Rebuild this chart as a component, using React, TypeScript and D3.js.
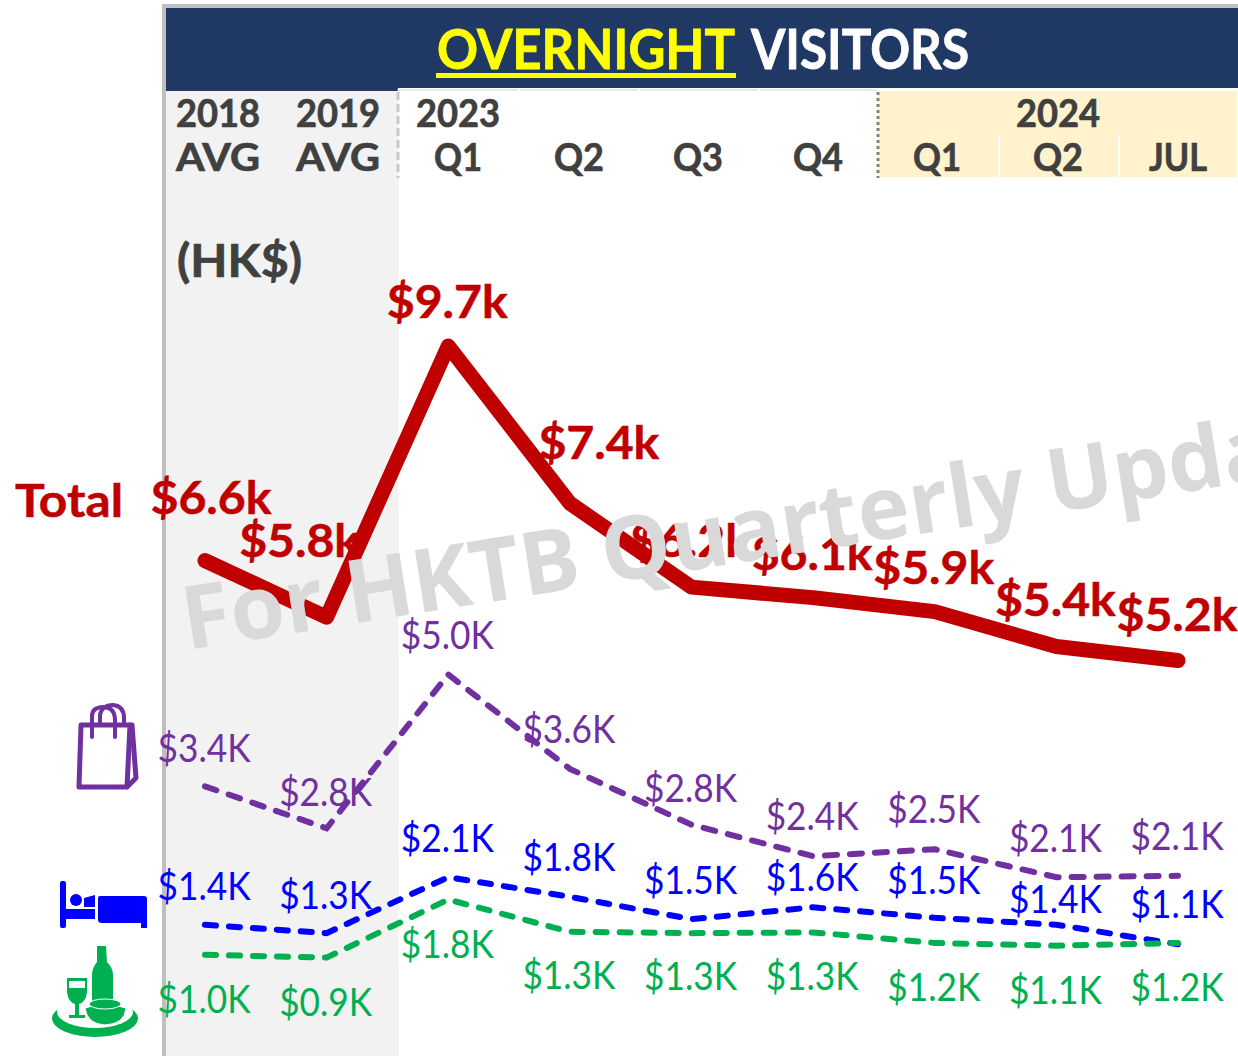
import React from "react";
import * as d3 from "d3";

const categories = ["2018 AVG", "2019 AVG", "2023 Q1", "2023 Q2", "2023 Q3", "2023 Q4", "2024 Q1", "2024 Q2", "2024 JUL"];
const totalValues = [6.63, 5.82, 9.7, 7.45, 6.25, 6.1, 5.9, 5.4, 5.2];
const shoppingValues = [3.4, 2.8, 5.0, 3.65, 2.85, 2.4, 2.5, 2.1, 2.12];
const hotelValues = [1.42, 1.3, 2.1, 1.82, 1.5, 1.67, 1.52, 1.42, 1.14];
const foodValues = [0.99, 0.95, 1.78, 1.32, 1.3, 1.31, 1.16, 1.12, 1.16];
const totalLabels = ["$6.6k", "$5.8k", "$9.7k", "$7.4k", "$6.2k", "$6.1k", "$5.9k", "$5.4k", "$5.2k"];
const shoppingLabels = ["$3.4K", "$2.8K", "$5.0K", "$3.6K", "$2.8K", "$2.4K", "$2.5K", "$2.1K", "$2.1K"];
const hotelLabels = ["$1.4K", "$1.3K", "$2.1K", "$1.8K", "$1.5K", "$1.6K", "$1.5K", "$1.4K", "$1.1K"];
const foodLabels = ["$1.0K", "$0.9K", "$1.8K", "$1.3K", "$1.3K", "$1.3K", "$1.2K", "$1.1K", "$1.2K"];
const topTicks = ["2018", "2019", "2023"];
const bottomTicks = ["AVG", "AVG", "Q1", "Q2", "Q3", "Q4", "Q1", "Q2", "JUL"];

const FONT = "Lato, 'Open Sans', sans-serif";
const RED = "#c00000", PURPLE = "#7030a0", BLUE = "#0000ff", GREEN = "#00b050", DARK = "#404040";

const x = d3.scalePoint<string>().domain(categories).range([205, 1178]);
const y = d3.scaleLinear().domain([0, 9.7]).range([1024, 346]);
const line = d3.line<number>().x((_, i) => x(categories[i]) as number).y((d) => y(d));

function Labels({ labels, ys, color }: { labels: string[]; ys: number[]; color: string }) {
  return (
    <g fill={color} fontSize={38} fontWeight={400} textAnchor="middle">
      {labels.map((t, i) => (
        <text key={i} x={(x(categories[i]) as number) - 1} y={ys[i]} textLength={93} lengthAdjust="spacingAndGlyphs">{t}</text>
      ))}
    </g>
  );
}

const totalLabelY = [514, 557, 318, 459, 557, 570, 584, 616, 631];
const totalLabelDx = [7, -26, 0, 30, 0, 0, 0, 0, 0];
const shopY = [762, 806, 649, 743, 802, 830, 823, 852, 850];
const hotelY = [900, 909, 852, 871, 894, 891, 894, 913, 918];
const foodY = [1013, 1016, 958, 989, 990, 990, 1001, 1004, 1001];

export default function App() {
  const xs = categories.map((c) => x(c) as number);
  return (
    <svg width={1238} height={1056} viewBox="0 0 1238 1056" style={{ position: "absolute", left: 0, top: 0, display: "block" }} fontFamily={FONT}>
      <rect x={163} y={90} width={235.5} height={966} fill="#f2f2f2" />
      <rect x={878} y={91} width={359} height={86} fill="#fff2cc" />
      <rect x={998} y={135} width={2} height={42} fill="#ffffff" />
      <rect x={1118} y={135} width={2} height={42} fill="#ffffff" />
      <rect x={165} y={8} width={1073} height={80} fill="#203864" />
      <rect x={165} y={88} width={233} height={3} fill="#203864" />
      <rect x={162} y={4} width={1076} height={4} fill="#bfbfbf" />
      <rect x={162} y={4} width={4} height={1052} fill="#bfbfbf" />
      <g stroke="#ffff00" strokeWidth={0.8}>
        <text x={586} y={69} fontSize={56} fontWeight={700} fill="#ffff00" textAnchor="middle" textLength={298} lengthAdjust="spacingAndGlyphs">OVERNIGHT</text>
      </g>
      <rect x={436} y={73} width={300} height={5} fill="#ffff00" />
      <text x={860} y={69} fontSize={56} fontWeight={700} fill="#ffffff" stroke="#ffffff" strokeWidth={0.8} textAnchor="middle" textLength={218} lengthAdjust="spacingAndGlyphs">VISITORS</text>
      <line x1={397} x2={878} y1={90} y2={90} stroke="#cfd3e3" strokeWidth={1} />
      {[519, 639, 759].map((gap) => (
        <rect key={gap} x={gap - 1} y={89} width={2} height={2} fill="#ffffff" />
      ))}
      <line x1={398} x2={398} y1={92} y2={178} stroke="#c8c8c8" strokeWidth={3} strokeDasharray="8 4" />
      <line x1={878} x2={878} y1={92} y2={178} stroke="#808080" strokeWidth={3} strokeDasharray="3 3" />
      <g fill={DARK} stroke={DARK} strokeWidth={0.7} fontSize={38} fontWeight={700} textAnchor="middle">
        {topTicks.map((t, i) => (
          <text key={t} x={[218, 338, 458][i]} y={127} textLength={84} lengthAdjust="spacingAndGlyphs">{t}</text>
        ))}
        <text x={1058} y={127} textLength={84} lengthAdjust="spacingAndGlyphs">2024</text>
        {bottomTicks.map((t, i) => (
          <text key={i} x={[218, 338, 458, 579, 698, 818, 937, 1058, 1178][i]} y={171} textLength={[84, 84, 48, 50, 50, 50, 48, 50, 58][i]} lengthAdjust="spacingAndGlyphs">{t}</text>
        ))}
      </g>
      <text x={177} y={277} fontSize={46} fontWeight={700} fill={DARK} stroke={DARK} strokeWidth={0.7} textLength={125} lengthAdjust="spacingAndGlyphs">(HK$)</text>
      <text x={15} y={517} fontSize={45} fontWeight={700} fill={RED} stroke={RED} strokeWidth={0.5} textLength={108} lengthAdjust="spacingAndGlyphs">Total</text>

      <path d={line(totalValues) ?? ""} fill="none" stroke={RED} strokeWidth={15} strokeLinecap="round" strokeLinejoin="round" />
      <path d={line(shoppingValues) ?? ""} fill="none" stroke={PURPLE} strokeWidth={6} strokeDasharray="12 13" strokeLinecap="round" />
      <path d={line(hotelValues) ?? ""} fill="none" stroke={BLUE} strokeWidth={6} strokeDasharray="11 13" strokeLinecap="round" />
      <path d={line(foodValues) ?? ""} fill="none" stroke={GREEN} strokeWidth={6} strokeDasharray="11 13" strokeLinecap="round" />

      <g fill={RED} stroke={RED} strokeWidth={0.5} fontSize={46} fontWeight={700} textAnchor="middle">
        {totalLabels.map((t, i) => (
          <text key={i} x={xs[i] + totalLabelDx[i] - 1} y={totalLabelY[i]} textLength={121} lengthAdjust="spacingAndGlyphs">{t}</text>
        ))}
      </g>
      <Labels labels={shoppingLabels} ys={shopY} color={PURPLE} />
      <Labels labels={hotelLabels} ys={hotelY} color={BLUE} />
      <Labels labels={foodLabels} ys={foodY} color={GREEN} />

      <text transform="translate(187,650) rotate(-9)" fontFamily="'Open Sans', sans-serif" fontSize={88} fontWeight={700} fill="#d9d9d9">For HKTB Quarterly Update</text>

      {/* shopping bag */}
      <g fill="none" stroke={PURPLE} strokeWidth={5} strokeLinejoin="round" strokeLinecap="round">
        <path d="M81 725 L132 725 L136 778 L127 787 L79 787 Z" />
        <path d="M127 787 L130 725" />
        <path d="M92 737 V716 Q92 708 102 707 Q115 707 115 720 V737" strokeWidth={4} />
        <path d="M100 725 V715 Q102 705 113 705 Q124 706 124 718 V725" strokeWidth={4} />
      </g>
      {/* bed */}
      <g fill={BLUE}>
        <rect x={60} y={881} width={6} height={47} rx={2} />
        <rect x={64} y={909} width={31} height={10} />
        <circle cx={76} cy={900} r={6} />
        <path d="M84 898 L95 895 V907 H84 Z" />
        <path d="M98 898 Q98 896 100 896 H144 Q147 896 147 899 V928 H141 V923 H102 Q98 923 98 920 Z" />
      </g>
      {/* dining */}
      <g fill={GREEN}>
        <ellipse cx={95} cy={1018.5} rx={43} ry={18.5} />
        <ellipse cx={95} cy={1012} rx={38} ry={16} fill="#ffffff" />
        <path d="M67 978 H87 V992 Q86 1002 79 1004 V1015 H85 V1018 H69 V1015 H75 V1004 Q68 1002 67 992 Z" />
        <rect x={69} y={981} width={16} height={7} fill="#ffffff" />
        <path d="M97 946 H106 L107 962 Q113 968 113 975 V1003 H92 V975 Q92 968 97 962 Z" />
        <path d="M85 1008 Q105 1001 126 1008 Q125 1024 105 1025 Q87 1024 85 1008 Z" stroke="#ffffff" strokeWidth={1} />
        <ellipse cx={105} cy={1004} rx={16} ry={5} stroke="#ffffff" strokeWidth={1} />
      </g>
    </svg>
  );
}
